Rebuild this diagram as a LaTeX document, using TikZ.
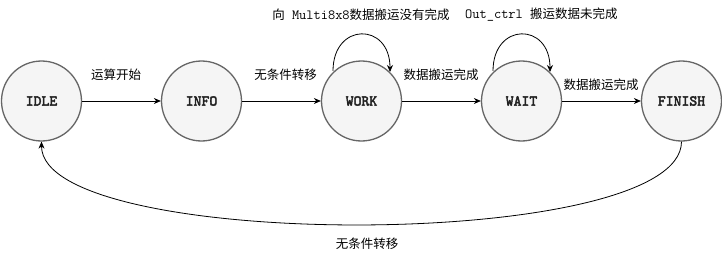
\documentclass[tikz,border=0pt]{standalone}
\usepackage{fontspec}
\setmainfont{Noto Sans CJK SC}
\newfontfamily\nodefont{lmmono10-regular.otf}[FakeBold=3]
\usetikzlibrary{arrows.meta}
\definecolor{nodefill}{HTML}{F5F5F5}
\definecolor{nodeline}{HTML}{666666}
\definecolor{txt}{HTML}{222222}
\newcommand{\monolbl}{\ttfamily\fontsize{14pt}{15pt}\selectfont}
\tikzset{
  state/.style={circle, draw=nodeline, fill=nodefill, line width=1.3pt, minimum size=80pt, inner sep=0pt,
    font=\nodefont\fontsize{15pt}{16pt}\selectfont, text=txt},
  edge/.style={line width=0.8pt, -{Stealth[length=7pt,width=6pt]}},
  lbl/.style={font=\fontsize{12.5pt}{14pt}\selectfont, inner sep=0pt},
}
\begin{document}
\begin{tikzpicture}[x=1pt,y=-1pt]
\useasboundingbox (0,0) rectangle (722,262);
\node[state] (idle) at (41.5,101) {IDLE};
\node[state] (info) at (201.5,101) {INFO};
\node[state] (work) at (361.5,101) {WORK};
\node[state] (wait) at (521.5,101) {WAIT};
\node[state] (finish) at (681.5,101) {FINISH};

\draw[edge] (idle) -- (info);
\draw[edge] (info) -- (work);
\draw[edge] (work) -- (wait);
\draw[edge] (wait) -- (finish);

\coordinate (w1) at (333,71);
\coordinate (w2) at (390,72);
\draw[edge] (w1) .. controls (333,22) and (390,22) .. (w2);
\coordinate (t1) at (493,71);
\coordinate (t2) at (550,72);
\draw[edge] (t1) .. controls (493,22) and (550,22) .. (t2);

\draw[edge] (finish.south) .. controls (681.5,252) and (41.5,252) .. (idle.south);

\node[lbl] (l1) at (116,75) {运算开始};
\node[lbl] (l2) at (285.5,75) {无条件转移};
\node[lbl] (l3) at (441,75) {数据搬运完成};
\node[lbl] (l4) at (601,85) {数据搬运完成};
\node[lbl] (l5) at (367,244) {无条件转移};
\node[lbl] (l6) at (361,15) {向{\monolbl\ Multi8x8}数据搬运没有完成};
\node[lbl, anchor=west] (l7) at (465,15) {{\monolbl Out\_ctrl\ }搬运数据未完成};
\end{tikzpicture}
\end{document}
